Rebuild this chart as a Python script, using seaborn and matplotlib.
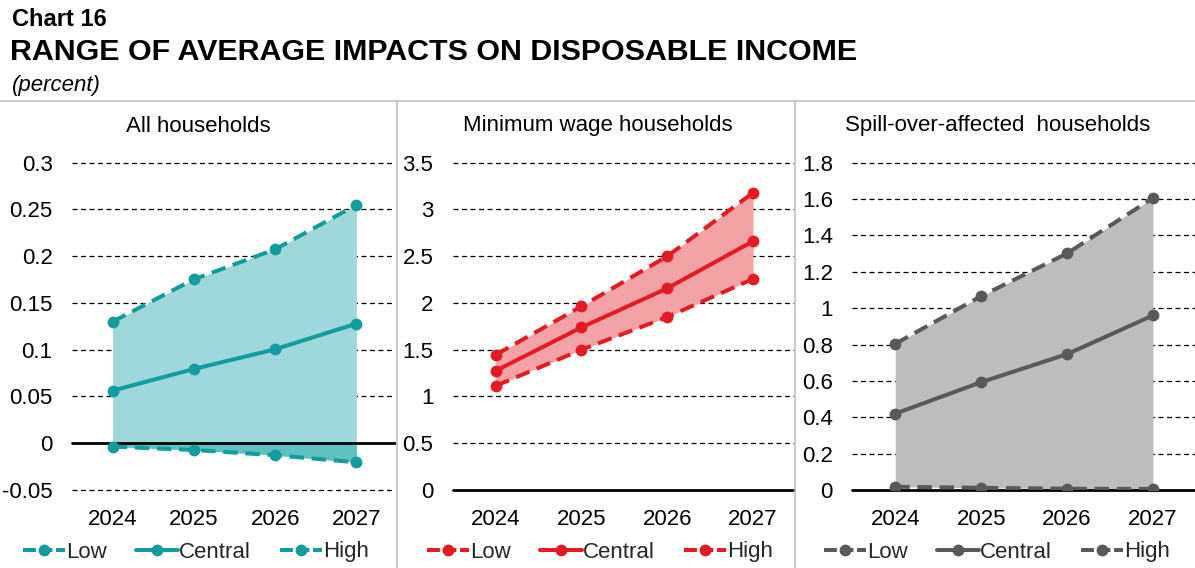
import matplotlib
matplotlib.use("Agg")
import matplotlib.pyplot as plt
from matplotlib.lines import Line2D
import seaborn as sns
import numpy as np

years = ["2024", "2025", "2026", "2027"]

# All households
all_low = [-0.0036, -0.0072, -0.0128, -0.0204]
all_central = [0.0563, 0.0794, 0.1005, 0.1279]
all_high = [0.130, 0.1753, 0.2074, 0.2548]

# Minimum wage households
mw_low = [1.114, 1.50, 1.850, 2.257]
mw_central = [1.275, 1.739, 2.157, 2.661]
mw_high = [1.446, 1.964, 2.50, 3.179]

# Spill-over-affected households
so_low = [0.018, 0.012, 0.007, 0.006]
so_central = [0.420, 0.593, 0.747, 0.960]
so_high = [0.804, 1.066, 1.301, 1.606]

panel_titles = ["All households", "Minimum wage households", "Spill-over-affected  households"]
series_names = ["Low", "Central", "High"]

sns.set_theme(style="white")
plt.rcParams["font.family"] = ["Liberation Sans", "DejaVu Sans"]

W, H = 1195, 568
fig = plt.figure(figsize=(W / 100, H / 100), dpi=100)


def fx(px):
    return px / W


def fy(py):
    return 1 - py / H


ax_bottom = fy(490)
ax_height = (490 - 162.7) / H

panels = [
    dict(left=72, right=395, low=all_low, central=all_central, high=all_high,
         ylim=(-0.05, 0.3), yticks=np.arange(-0.05, 0.3001, 0.05),
         labels=["-0.05", "0", "0.05", "0.1", "0.15", "0.2", "0.25", "0.3"],
         line="#129c9e", fill="#9fd8da", neg_fill="#60c0c2", title_x=198.5, legend_x=196,
         xlim=(-0.5, 3.475)),
    dict(left=452.8, right=794, low=mw_low, central=mw_central, high=mw_high,
         ylim=(0, 3.5), yticks=np.arange(0, 3.5001, 0.5),
         labels=["0", "0.5", "1", "1.5", "2", "2.5", "3", "3.5"],
         line="#e31b23", fill="#f3a3a5", neg_fill=None, title_x=598, legend_x=600,
         xlim=(-0.5, 3.477)),
    dict(left=852.3, right=1195, low=so_low, central=so_central, high=so_high,
         ylim=(0, 1.8), yticks=np.arange(0, 1.8001, 0.2),
         labels=["0", "0.2", "0.4", "0.6", "0.8", "1", "1.2", "1.4", "1.6", "1.8"],
         line="#595959", fill="#bdbdbd", neg_fill=None, title_x=998, legend_x=997,
         xlim=(-0.5, 3.49)),
]

x = np.arange(len(years))
dash = (0, (3.6, 1.9))
legend_dash = (0, (3.2, 0.9))
lw = 2.9
ms = 8.5
FS = 16

for i, p in enumerate(panels):
    ax = fig.add_axes([fx(p["left"]), ax_bottom, fx(p["right"] - p["left"]), ax_height])
    low, cen, high = np.array(p["low"]), np.array(p["central"]), np.array(p["high"])

    ax.fill_between(x, low, high, color=p["fill"], linewidth=0, zorder=1)
    if p["neg_fill"] is not None:
        ax.fill_between(x, low, np.zeros_like(low), where=low < 0,
                        color=p["neg_fill"], linewidth=0, zorder=1.1)

    # dashed horizontal grid, drawn unclipped so the edge lines stay whole
    for yv in p["yticks"]:
        if abs(yv) < 1e-9:
            continue
        ax.axhline(yv, color="black", linestyle=(0, (4, 2.8)), linewidth=0.9,
                   zorder=0.5, clip_on=False)
    ax.axhline(0, color="black", lw=2.0, zorder=2, clip_on=False)

    common = dict(ax=ax, color=p["line"], marker="o", markersize=ms,
                  markeredgewidth=0, linewidth=lw, zorder=3)
    sns.lineplot(x=x, y=low, linestyle=dash, **common)
    sns.lineplot(x=x, y=cen, linestyle="-", **common)
    sns.lineplot(x=x, y=high, linestyle=dash, **common)

    ax.set_xlim(*p["xlim"])
    ax.set_ylim(*p["ylim"])
    ax.set_xticks(x)
    ax.set_xticklabels(years)
    ax.set_yticks(p["yticks"])
    ax.set_yticklabels(p["labels"])
    ax.tick_params(axis="both", length=0, labelsize=FS, colors="black")
    ax.tick_params(axis="y", pad=14)
    ax.tick_params(axis="x", pad=14)
    ax.grid(False)
    for s in ax.spines.values():
        s.set_visible(False)
    ax.patch.set_alpha(0)

    handles = [
        Line2D([], [], color=p["line"], lw=lw, linestyle=legend_dash, marker="o",
               markersize=ms, markeredgewidth=0),
        Line2D([], [], color=p["line"], lw=lw, linestyle="-", marker="o",
               markersize=ms, markeredgewidth=0),
        Line2D([], [], color=p["line"], lw=lw, linestyle=legend_dash, marker="o",
               markersize=ms, markeredgewidth=0),
    ]
    ax.legend(handles, series_names, loc="center", ncol=3, frameon=False, fontsize=FS,
              bbox_to_anchor=(fx(p["legend_x"]), fy(552)), bbox_transform=fig.transFigure,
              handlelength=1.9, handletextpad=0.05, columnspacing=1.3, borderpad=0)

    fig.text(fx(p["title_x"]), fy(126), panel_titles[i], ha="center", va="center",
             fontsize=16, color="black")

# panel separators
fig.add_artist(Line2D([0, 1], [fy(101), fy(101)], color="#c0c0c0", lw=1.2,
                      transform=fig.transFigure))
for sx in (397, 795):
    fig.add_artist(Line2D([fx(sx), fx(sx)], [fy(101), 0], color="#c0c0c0", lw=1.2,
                          transform=fig.transFigure))

fig.text(fx(12), fy(20), "Chart 16", ha="left", va="center", fontsize=17,
         fontweight="bold", color="black")
fig.text(fx(10), fy(52), "RANGE OF AVERAGE IMPACTS ON DISPOSABLE INCOME", ha="left",
         va="center", fontsize=21.9, fontweight="bold", color="black")
fig.text(fx(12), fy(86), "(percent)", ha="left", va="center", fontsize=16,
         fontstyle="italic", color="black")

fig.savefig("out.png", dpi=100)
